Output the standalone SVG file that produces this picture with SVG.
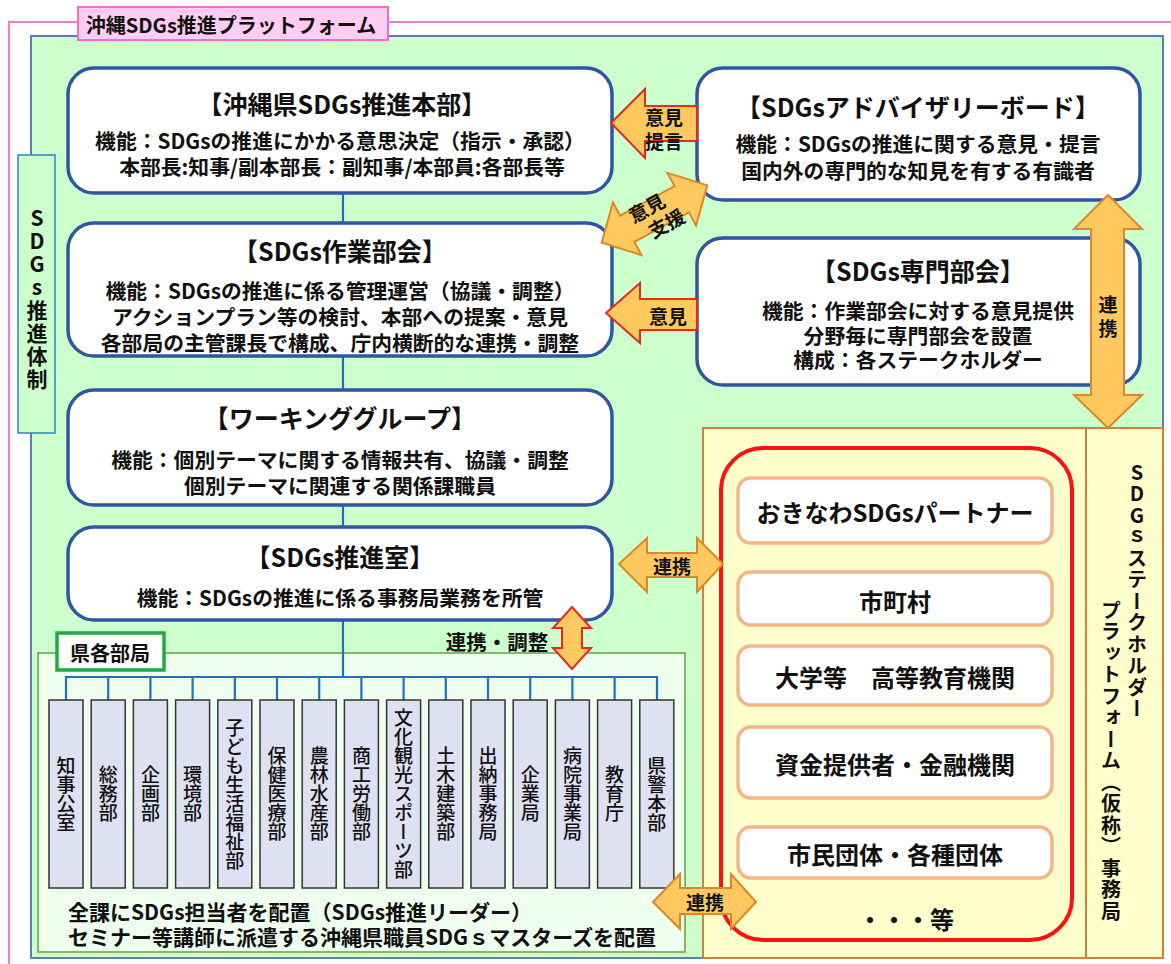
<svg xmlns="http://www.w3.org/2000/svg" width="1171" height="964" viewBox="0 0 1171 964">
<style>
text{font-family:"Noto Sans CJK JP","Noto Sans",sans-serif;fill:#111;}
.t{font-size:25px;font-weight:700;text-anchor:middle;dominant-baseline:central;}
.b{font-size:20.8px;font-weight:700;text-anchor:middle;dominant-baseline:central;}
.box{fill:#fff;stroke:#2f55a3;stroke-width:3.5;}
.dept{fill:#dde1f2;stroke:#333;stroke-width:1.5;}
.dt{font-size:19px;font-weight:500;text-anchor:middle;writing-mode:vertical-rl;text-orientation:upright;}
.vt{font-weight:700;writing-mode:vertical-rl;text-orientation:upright;}
.pb{fill:#fff;stroke:#f2b58a;stroke-width:3.5;}
.pt{font-size:24px;font-weight:700;text-anchor:middle;dominant-baseline:central;}
.ar{fill:#ffc960;stroke:#e42a22;stroke-width:2;stroke-linejoin:miter;}
.ao{fill:#ffc960;stroke:#e0862a;stroke-width:2;}
.al{font-size:19px;font-weight:700;text-anchor:middle;dominant-baseline:central;}
.ln{stroke:#1f6fc2;stroke-width:2.2;fill:none;}
</style>

<!-- outer platform frame -->
<g id="platform">
<rect x="9" y="22" width="1190" height="970" fill="none" stroke="#f07ccc" stroke-width="2"/>
<rect x="31" y="36" width="1132" height="922" fill="#ccffcc" stroke="#5a7fb0" stroke-width="2"/>
<rect x="78" y="7" width="310" height="33" fill="#ffccf2" stroke="#f070c8" stroke-width="2"/>
<text x="231" y="24" class="b" style="font-size:20px">沖縄SDGs推進プラットフォーム</text>
</g>

<g id="label-taisei">
<rect x="18" y="155" width="37" height="278" fill="#ccffcc" stroke="#2a85c8" stroke-width="1.5"/>
<text x="37" y="300" class="vt" style="font-size:21px;letter-spacing:2px;text-anchor:middle">SDGs推進体制</text>
</g>

<!-- dept panel -->
<g id="dept-panel">
<rect x="38" y="653" width="647" height="299" fill="#eeffee" stroke="#6b9a4e" stroke-width="1.5"/>
<rect x="57" y="633" width="107" height="37" fill="#fff" stroke="#1faa45" stroke-width="3.5"/>
<text x="110" y="652" class="b" style="font-size:20px">県各部局</text>
<text x="68" y="911" style="font-size:21px;font-weight:700;dominant-baseline:central">全課にSDGs担当者を配置（SDGs推進リーダー）</text>
<text x="68" y="936" style="font-size:21px;font-weight:700;dominant-baseline:central">セミナー等講師に派遣する沖縄県職員SDGｓマスターズを配置</text>
</g>

<!-- stakeholder panel -->
<g id="stakeholder-panel">
<rect x="703" y="428" width="383" height="530" fill="#ffffcc" stroke="#d2803a" stroke-width="2"/>
<rect x="1086" y="428" width="77" height="530" fill="#ffffcc" stroke="#d2803a" stroke-width="2"/>
<text x="1137" y="462" class="vt" style="font-size:20px;letter-spacing:1.5px">SDGｓステークホルダー</text>
<text x="1111" y="600" class="vt" style="font-size:20px;letter-spacing:1.5px">プラットフォーム（仮称）事務局</text>
<rect x="721" y="448" width="351" height="492" rx="42" fill="none" stroke="#ff1010" stroke-width="4"/>
</g>
<g id="p-partner"><rect class="pb" x="738" y="478" width="314" height="65" rx="13"/><text class="pt" x="895" y="511">おきなわSDGsパートナー</text></g>
<g id="p-shichoson"><rect class="pb" x="738" y="572" width="314" height="53" rx="13"/><text class="pt" x="895" y="600">市町村</text></g>
<g id="p-daigaku"><rect class="pb" x="738" y="646" width="314" height="59" rx="13"/><text class="pt" x="895" y="676">大学等　高等教育機関</text></g>
<g id="p-shikin"><rect class="pb" x="738" y="727" width="314" height="71" rx="13"/><text class="pt" x="895" y="763">資金提供者・金融機関</text></g>
<g id="p-shimin"><rect class="pb" x="738" y="827" width="314" height="51" rx="13"/><text class="pt" x="895" y="853">市民団体・各種団体</text></g>
<g id="p-etc"><text class="pt" x="906" y="918">・・・等</text></g>

<!-- connectors -->
<g id="connectors">
<path class="ln" d="M343 193V223M343 356V390M343 505V527M343 620V677M66 700V677H657V700"/>
<path class="ln" d="M108.2 677V700M150.4 677V700M192.6 677V700M234.8 677V700M277 677V700M319.2 677V700M361.4 677V700M403.6 677V700M445.8 677V700M488 677V700M530.2 677V700M572.4 677V700M614.6 677V700"/>
</g>

<!-- main boxes -->
<g id="honbu">
<rect class="box" x="68" y="68" width="544" height="125" rx="26"/>
<text class="t" x="342" y="103">【沖縄県SDGs推進本部】</text>
<text class="b" x="340" y="140">機能：SDGsの推進にかかる意思決定（指示・承認）</text>
<text class="b" x="342" y="166">本部長:知事/副本部長：副知事/本部員:各部長等</text>
</g>
<g id="sagyo">
<rect class="box" x="68" y="223" width="544" height="133" rx="26"/>
<text class="t" x="340" y="250">【SDGs作業部会】</text>
<text class="b" x="340" y="290">機能：SDGsの推進に係る管理運営（協議・調整）</text>
<text class="b" x="340" y="316">アクションプラン等の検討、本部への提案・意見</text>
<text class="b" x="340" y="342">各部局の主管課長で構成、庁内横断的な連携・調整</text>
</g>
<g id="working">
<rect class="box" x="68" y="390" width="544" height="115" rx="26"/>
<text class="t" x="340" y="417">【ワーキンググループ】</text>
<text class="b" x="340" y="459">機能：個別テーマに関する情報共有、協議・調整</text>
<text class="b" x="340" y="485">個別テーマに関連する関係課職員</text>
</g>
<g id="suishinshitsu">
<rect class="box" x="68" y="527" width="544" height="93" rx="26"/>
<text class="t" x="340" y="556">【SDGs推進室】</text>
<text class="b" x="340" y="597">機能：SDGsの推進に係る事務局業務を所管</text>
</g>
<g id="advisory">
<rect class="box" x="697" y="68" width="443" height="132" rx="26"/>
<text class="t" x="918" y="106">【SDGsアドバイザリーボード】</text>
<text class="b" x="918" y="143">機能：SDGsの推進に関する意見・提言</text>
<text class="b" x="918" y="170">国内外の専門的な知見を有する有識者</text>
</g>
<g id="senmon">
<rect class="box" x="697" y="238" width="443" height="147" rx="26"/>
<text class="t" x="918" y="270">【SDGs専門部会】</text>
<text class="b" x="918" y="310">機能：作業部会に対する意見提供</text>
<text class="b" x="918" y="335">分野毎に専門部会を設置</text>
<text class="b" x="918" y="359">構成：各ステークホルダー</text>
</g>

<!-- departments -->
<g id="depts">
<g id="d1"><rect class="dept" x="49" y="700" width="34" height="188"/><text class="dt" x="66" y="794">知事公室</text></g>
<g id="d2"><rect class="dept" x="91.2" y="700" width="34" height="188"/><text class="dt" x="108.2" y="794">総務部</text></g>
<g id="d3"><rect class="dept" x="133.4" y="700" width="34" height="188"/><text class="dt" x="150.4" y="794">企画部</text></g>
<g id="d4"><rect class="dept" x="175.6" y="700" width="34" height="188"/><text class="dt" x="192.6" y="794">環境部</text></g>
<g id="d5"><rect class="dept" x="217.8" y="700" width="34" height="188"/><text class="dt" x="234.8" y="794">子ども生活福祉部</text></g>
<g id="d6"><rect class="dept" x="260" y="700" width="34" height="188"/><text class="dt" x="277" y="794">保健医療部</text></g>
<g id="d7"><rect class="dept" x="302.2" y="700" width="34" height="188"/><text class="dt" x="319.2" y="794">農林水産部</text></g>
<g id="d8"><rect class="dept" x="344.4" y="700" width="34" height="188"/><text class="dt" x="361.4" y="794">商工労働部</text></g>
<g id="d9"><rect class="dept" x="386.6" y="700" width="34" height="188"/><text class="dt" x="403.6" y="794">文化観光スポーツ部</text></g>
<g id="d10"><rect class="dept" x="428.8" y="700" width="34" height="188"/><text class="dt" x="445.8" y="794">土木建築部</text></g>
<g id="d11"><rect class="dept" x="471" y="700" width="34" height="188"/><text class="dt" x="488" y="794">出納事務局</text></g>
<g id="d12"><rect class="dept" x="513.2" y="700" width="34" height="188"/><text class="dt" x="530.2" y="794">企業局</text></g>
<g id="d13"><rect class="dept" x="555.4" y="700" width="34" height="188"/><text class="dt" x="572.4" y="794">病院事業局</text></g>
<g id="d14"><rect class="dept" x="597.6" y="700" width="34" height="188"/><text class="dt" x="614.6" y="794">教育庁</text></g>
<g id="d15"><rect class="dept" x="639.8" y="700" width="34" height="188"/><text class="dt" x="656.8" y="794">県警本部</text></g>
</g>

<!-- arrows -->
<g id="arrows">
<g id="a-teigen">
<polygon class="ar" points="611,123 645,89 645,106 697,106 697,141 645,141 645,158"/>
<text class="al" x="664" y="116">意見</text><text class="al" x="664" y="140">提言</text>
</g>
<g id="a-shien" transform="translate(654.5,214) rotate(-28.5)">
<polygon class="ao" points="-60,0 -31,-30 -31,-15 31,-15 31,-30 60,0 31,30 31,15 -31,15 -31,30"/>
<text class="al" x="-4" y="-10">意見</text><text class="al" x="6" y="13">支援</text>
</g>
<g id="a-iken">
<polygon class="ar" points="606,313 640,283 640,299 697,299 697,330 640,330 640,343"/>
<text class="al" x="668" y="315">意見</text>
</g>
<g id="a-renkei-r">
<polygon class="ao" points="1108,195 1142,229 1124,229 1124,395 1142,395 1108,428 1074,395 1091,395 1091,229 1074,229"/>
<text class="al" x="1108" y="303">連</text><text class="al" x="1108" y="327">携</text>
</g>
<g id="a-renkei-m">
<polygon class="ao" points="619,564 647,538 647,553 697,553 697,538 723,564 697,592 697,577 647,577 647,592"/>
<text class="al" x="672" y="565">連携</text>
</g>
<g id="a-chosei">
<polygon class="ar" points="572,607 591,628 582,628 582,648 591,648 572,669 553,648 562,648 562,628 553,628"/>
<text x="497" y="641" class="b" style="font-size:20.5px">連携・調整</text>
</g>
<g id="a-renkei-b">
<polygon class="ao" points="653,902 680,874 680,888 731,888 731,874 756,902 731,929 731,914 680,914 680,929"/>
<text class="al" x="705" y="901">連携</text>
</g>
</g>
</svg>
